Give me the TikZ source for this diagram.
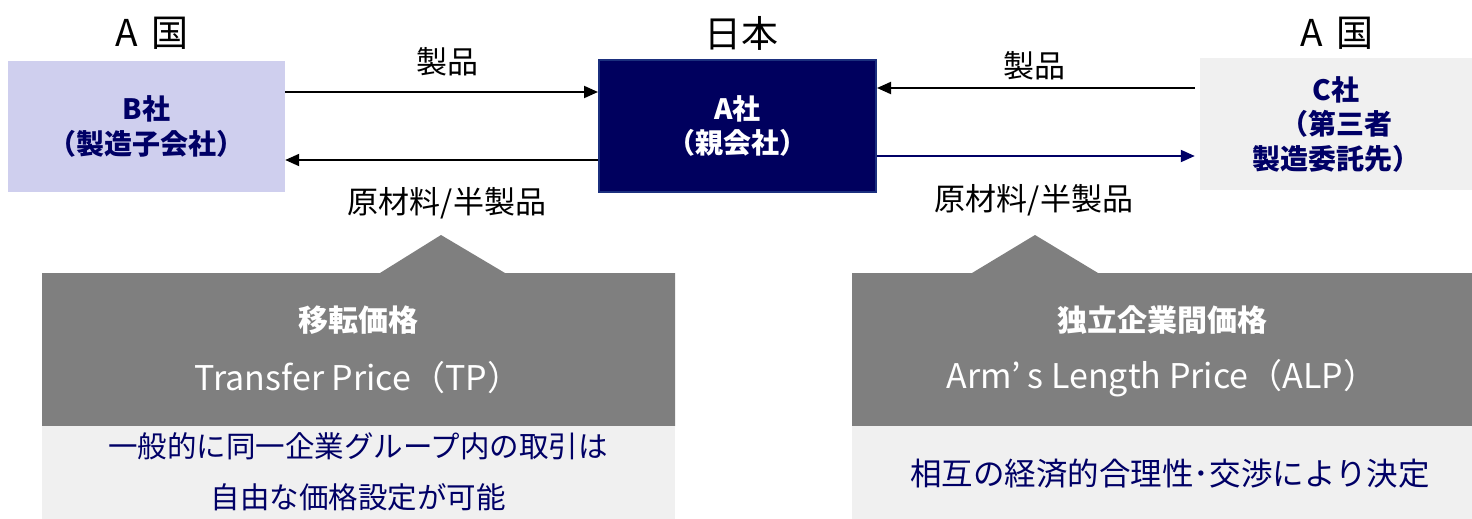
\documentclass[tikz,border=0pt]{standalone}
\usepackage{fontspec}
\setmainfont{Noto Sans CJK JP}
\usetikzlibrary{arrows.meta,calc}
\definecolor{navy}{HTML}{000066}
\definecolor{dnavy}{HTML}{00005E}
\definecolor{bord}{HTML}{1B2F7E}
\definecolor{lav}{HTML}{CFCFEE}
\definecolor{lgray}{HTML}{F0F0F0}
\definecolor{mgray}{HTML}{7F7F7F}
\tikzset{
  hdr/.style={inner sep=0pt, font=\fontsize{37}{40}\selectfont},
  lbl/.style={inner sep=0pt, font=\fontsize{31}{34}\selectfont},
  boxnode/.style={inner sep=0pt, align=center, text=navy, font=\bfseries\fontsize{28}{34.5}\selectfont},
  arr/.style={line width=2pt, -{Triangle[length=14pt,width=12pt]}},
  gtitle/.style={inner sep=0pt, text=white, font=\bfseries\fontsize{30}{32}\selectfont},
  gsub/.style={inner sep=0pt, text=white, font=\fontsize{34}{36}\selectfont},
  ntext/.style={inner sep=0pt, text=navy, font=\fontsize{29.5}{34}\selectfont},
}
\begin{document}
\begin{tikzpicture}[x=1pt,y=-1pt]
\useasboundingbox (0,0) rectangle (1472,519);
% headers
\node[hdr] (h1) at (152,33) {A\hspace{0.35em}国};
\node[hdr] (h2) at (741,33) {日本};
\node[hdr] (h3) at (1337,33) {A\hspace{0.35em}国};
% boxes
\node[boxnode, fill=lav, minimum width=277pt, minimum height=131pt] (B) at (146.5,126.5) {B社\\（製造子会社）};
\node[boxnode, fill=dnavy, draw=bord, line width=2pt, text=white, minimum width=277pt, minimum height=132pt] (A) at (737.5,126) {A社\\（親会社）};
\node[boxnode, fill=lgray, minimum width=272pt, minimum height=132pt] (C) at (1336,124) {C社\\（第三者\\製造委託先）};
% arrows
\draw[arr] ([yshift=34.5pt]B.east) -- ([yshift=34.5pt]B.east -| A.west);
\draw[arr] ([yshift=-34pt]A.west) -- ([yshift=-34pt]A.west -| B.east);
\draw[arr] ([yshift=36pt,xshift=-5pt]C.west) -- ([yshift=36pt]C.west -| A.east);
\draw[arr, navy] ([yshift=-32pt]C.west -| A.east) -- ([yshift=-32pt,xshift=-5pt]C.west);
% labels
\node[lbl] (l1) at (447,62) {製品};
\node[lbl] (l2) at (447,203) {原材料/半製品};
\node[lbl] (l3) at (1034,66) {製品};
\node[lbl] (l4) at (1034,200) {原材料/半製品};
% callouts
\fill[mgray] (42,273) -- (380,273) -- (441,235) -- (505,273) -- (675,273) -- (675,426) -- (42,426) -- cycle;
\fill[lgray] (42,426) rectangle (675,519);
\fill[mgray] (852,273) -- (972,273) -- (1035,235) -- (1098,273) -- (1472,273) -- (1472,426) -- (852,426) -- cycle;
\fill[lgray] (852,426) rectangle (1472,519);
\node[gtitle] (t1) at (358,320) {移転価格};
\node[gsub] (s1) at (358,378) {Transfer Price（TP）};
\node[gtitle] (t2) at (1162,320) {独立企業間価格};
\node[gsub] (s2) at (1162,378) {Arm’\hspace{0.2em}s Length Price（ALP）};
\node[ntext] (n1) at (358,446) {一般的に同一企業グループ内の取引は};
\node[ntext] (n2) at (358,497) {自由な価格設定が可能};
\node[ntext, font=\fontsize{31.5}{34}\selectfont] (n3) at (1170,474) {相互の経済的合理性･交渉により決定};
\end{tikzpicture}
\end{document}
